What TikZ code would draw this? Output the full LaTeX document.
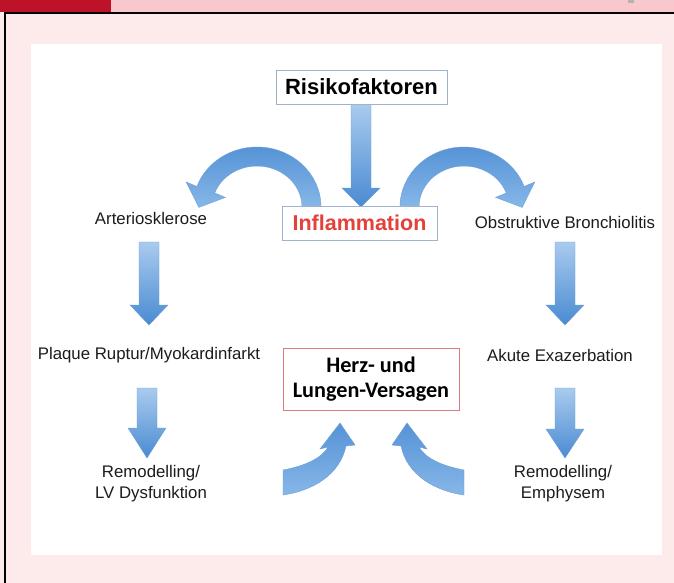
\documentclass[tikz,border=0pt]{standalone}
\usepackage{fontspec}
\setmainfont{Liberation Sans}
\newfontfamily\calibri{Carlito}
\definecolor{darkred}{HTML}{BE1229}
\definecolor{barpink}{HTML}{F9C8CC}
\definecolor{bgpink}{HTML}{FDEBEC}
\definecolor{boxblue}{HTML}{9FB3CE}
\definecolor{boxred}{HTML}{DE7B7B}
\definecolor{inflred}{HTML}{E5413A}
\definecolor{arrlight}{HTML}{A9CBEE}
\definecolor{arrdark}{HTML}{4A8AD2}
\definecolor{arrmid}{HTML}{5693D6}
\definecolor{arrpale}{HTML}{86B7E8}
\definecolor{arredge}{HTML}{6F9FD6}
\definecolor{txt}{HTML}{1C1C1C}
\tikzset{
  boxnode/.style={draw, line width=0.9pt, inner sep=0pt, fill=white},
  label16/.style={text=txt, font=\fontsize{16.8}{21}\selectfont, align=center, inner sep=0pt},
  straightarrow/.style={top color=arrlight, bottom color=arrdark, draw=arredge, line width=0.4pt},
  curvedarrow/.style={top color=arrmid, bottom color=arrpale, draw=arredge, line width=0.4pt},
}
\newcommand{\dnarrow}[4]{% center x, top y, head start y, tip y
  \path[straightarrow] (#1-10,#2) -- (#1+10,#2) -- (#1+10,#3) -- (#1+19,#3) -- (#1,#4) -- (#1-19,#3) -- (#1-10,#3) -- cycle;}
\newcommand{\topcurve}{%
  \path[curvedarrow] (321,207) arc[start angle=0, end angle=-160, x radius=64, y radius=60]
    -- (186.2,182.0) -- (198.8,207.4) -- (225.4,197.4) -- (214.7,193.0)
    arc[start angle=-160, end angle=0, x radius=45, y radius=41] -- cycle;}
\newcommand{\bottomcurve}{%
  \path[curvedarrow] (283,470) .. controls (305,466) and (322,458) .. (328,447)
    -- (320,449) -- (340,423) -- (355,445) -- (346,446)
    .. controls (340,475) and (312,491) .. (283,495) -- cycle;}
\begin{document}
\begin{tikzpicture}[x=1pt,y=-1pt]
\useasboundingbox (0,0) rectangle (674,583);
% background
\fill[bgpink] (0,0) rectangle (674,583);
\fill[barpink] (0,0) rectangle (674,12);
\fill[darkred] (0,0) rectangle (111,12);
\fill[gray!60] (628,0) rectangle (634,3);
\draw[black, line width=1.5pt] (674,13) -- (5,13) -- (5,583);
\fill[white] (31,44) rectangle (662,555);

% arrows
\dnarrow{361}{104}{188}{207}
\dnarrow{149}{242}{305}{325}
\dnarrow{565}{242}{305}{325}
\dnarrow{147}{388}{428}{458}
\dnarrow{565}{388}{429}{458}
\topcurve
\begin{scope}[xshift=721pt, xscale=-1]
\topcurve
\end{scope}
\bottomcurve
\begin{scope}[xshift=747pt, xscale=-1]
\bottomcurve
\end{scope}

% nodes
\node[boxnode, draw=boxblue, minimum width=171pt, minimum height=34pt,
      font=\fontsize{22}{26}\selectfont\bfseries, text=black] (risk) at (361.5,87) {Risikofaktoren};
\node[boxnode, draw=boxblue, minimum width=155pt, minimum height=34pt,
      font=\fontsize{21.5}{26}\selectfont\bfseries, text=inflred] (infl) at (359.5,223) {Inflammation};
\node[boxnode, draw=boxred, minimum width=176pt, minimum height=62pt, align=center,
      font=\calibri\fontsize{22.2}{25}\selectfont\bfseries, text=black] (hlv) at (371,379) {Herz- und\\Lungen-Versagen};
\node[label16] (arte) at (151,218) {Arteriosklerose};
\node[label16] (obst) at (565,222) {Obstruktive Bronchiolitis};
\node[label16] (plaq) at (149,355) {Plaque Ruptur/Myokardinfarkt};
\node[label16] (akut) at (560,355) {Akute Exazerbation};
\node[label16] (lvd) at (151,484) {Remodelling/\\LV Dysfunktion};
\node[label16] (emph) at (563,484) {Remodelling/\\Emphysem};
\end{tikzpicture}
\end{document}
